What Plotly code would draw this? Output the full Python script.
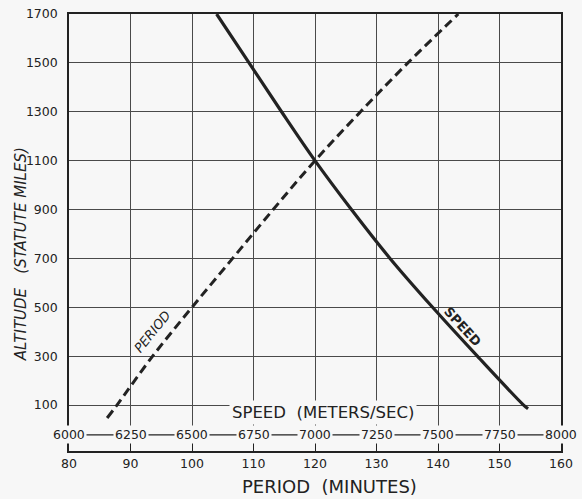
import plotly.graph_objects as go

# ---- data ----
period_alt = [47, 100, 300, 500, 700, 900, 1100, 1300, 1500, 1700]
period_min = [86.2, 87.8, 93.6, 100, 106.6, 113.2, 120, 127.4, 135.1, 143.3]

speed_alt = [1700, 1500, 1300, 1100, 900, 700, 500, 300, 100, 85]
speed_ms = [6600, 6732, 6864, 7000, 7148, 7305, 7478, 7660, 7848, 7866]

period_ticks = [80, 90, 100, 110, 120, 130, 140, 150, 160]
speed_ticks = [6000, 6250, 6500, 6750, 7000, 7250, 7500, 7750, 8000]
alt_ticks = [100, 300, 500, 700, 900, 1100, 1300, 1500, 1700]

BG = "#f7f7f7"
INK = "#222222"
GRID = "#4a4a4a"
FONT = "DejaVu Sans"

fig = go.Figure()

fig.add_trace(go.Scatter(
    x=period_min, y=period_alt, mode="lines", xaxis="x", yaxis="y",
    line=dict(color=INK, width=3, dash="9px,5px", shape="spline",
              smoothing=1.0),
    showlegend=False, hoverinfo="skip"))

fig.add_trace(go.Scatter(
    x=speed_ms, y=speed_alt, mode="lines", xaxis="x2", yaxis="y",
    line=dict(color=INK, width=3.2, shape="spline", smoothing=1.0),
    showlegend=False, hoverinfo="skip"))

annotations = []
# speed scale labels drawn inside the plot on the secondary axis
for s in speed_ticks:
    annotations.append(dict(
        x=s, y=-22, xref="x2", yref="y", text=str(s), showarrow=False,
        font=dict(family=FONT, size=12.5, color=INK), bgcolor=BG,
        borderpad=1))
annotations.append(dict(
    x=121.3, y=68, xref="x", yref="y", text="SPEED  (METERS/SEC)",
    showarrow=False, font=dict(family=FONT, size=16.5, color=INK),
    bgcolor=BG, borderpad=2))
annotations.append(dict(
    x=93.6, y=400, xref="x", yref="y", text="<i>PERIOD</i>",
    showarrow=False, textangle=-51,
    font=dict(family=FONT, size=13, color=INK)))
annotations.append(dict(
    x=144, y=422, xref="x", yref="y", text="<b>SPEED</b>",
    showarrow=False, textangle=48,
    font=dict(family=FONT, size=13, color=INK)))
annotations.append(dict(
    x=0.53, y=-0.082, xref="paper", yref="paper", yanchor="middle",
    text="PERIOD  (MINUTES)", showarrow=False,
    font=dict(family=FONT, size=18, color=INK)))
annotations.append(dict(
    x=-0.12, y=0.45, xref="paper", yref="paper",
    text="<i>ALTITUDE   (STATUTE MILES)</i>", showarrow=False,
    textangle=-90, font=dict(family=FONT, size=15, color=INK)))

shapes = [
    # connecting dash line through the speed labels
    dict(type="line", xref="paper", yref="y", x0=0, x1=1, y0=-22, y1=-22,
         line=dict(color=INK, width=1.2), layer="below"),
]

fig.update_layout(
    width=582, height=499,
    margin=dict(l=69, r=21, t=14, b=48, autoexpand=False),
    paper_bgcolor=BG, plot_bgcolor=BG,
    xaxis=dict(range=[80, 160], tickvals=period_ticks, automargin=False,
               showgrid=True, gridcolor=GRID, gridwidth=1.3,
               ticks="inside", ticklen=10, tickcolor=INK,
               showline=True, linecolor=INK, linewidth=1.6, mirror=True,
               zeroline=False,
               tickfont=dict(family=FONT, size=12.5, color=INK)),
    xaxis2=dict(range=[6000, 8000], overlaying="x", visible=False),
    yaxis=dict(range=[-88, 1700], tickvals=alt_ticks, automargin=False,
               showgrid=True, gridcolor=GRID, gridwidth=1.3,
               ticks="", showline=True, linecolor=INK, linewidth=1.6,
               mirror=True, zeroline=False, ticklabelstandoff=7,
               tickfont=dict(family=FONT, size=12.5, color=INK)),
    annotations=annotations,
    shapes=shapes,
)

# remove the page's default 8px body margin so the figure sits at (0, 0)
fig.write_html(
    "out.html",
    config={"displayModeBar": False},
    post_script="document.body.style.margin='0px';"
                "document.body.style.overflow='hidden';",
)
